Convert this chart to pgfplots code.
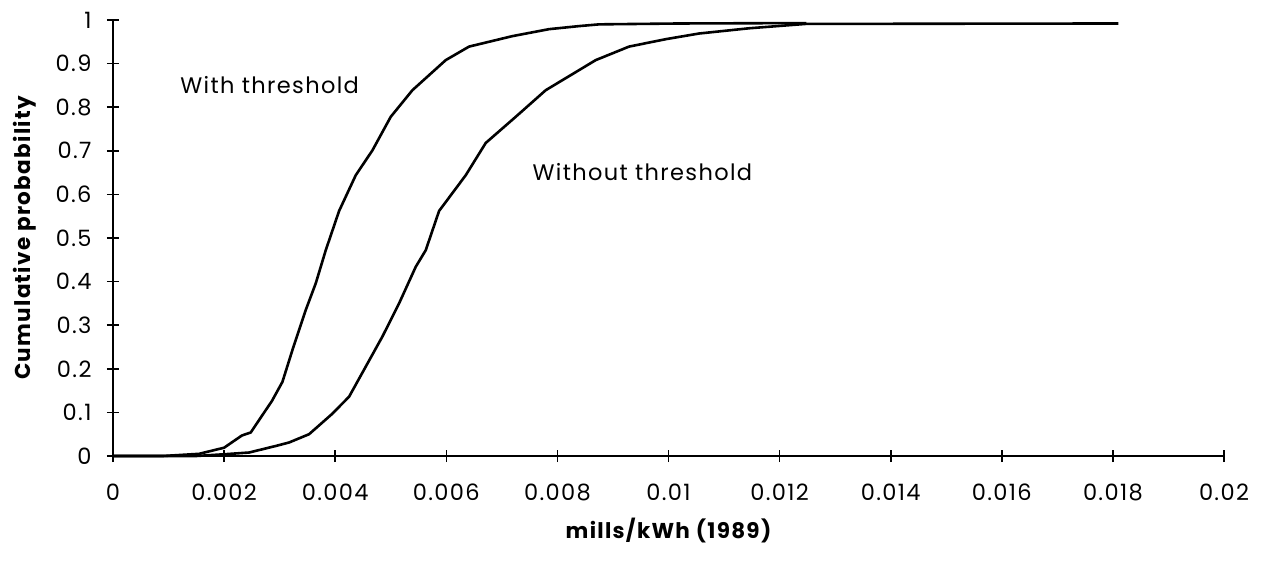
\documentclass[border=0pt]{standalone}
\usepackage{fontspec}
\setmainfont{Poppins}[LetterSpace=6]
\usepackage{pgfplots}
\pgfplotsset{compat=1.18}
\pgfplotstableread{
x y
0 0
0.0009 0
0.00155 0.005
0.002 0.019
0.00232 0.047
0.00248 0.054
0.00268 0.092
0.00286 0.126
0.00305 0.17
0.00323 0.243
0.00347 0.335
0.00365 0.396
0.00383 0.472
0.00407 0.562
0.00437 0.644
0.00467 0.701
0.005 0.778
0.00539 0.839
0.00599 0.908
0.00641 0.939
0.00719 0.963
0.00785 0.979
0.00839 0.986
0.00875 0.99
0.01019 0.992
0.01248 0.993
}\withthr
\pgfplotstableread{
x y
0 0
0.0015 0
0.002 0.004
0.00245 0.008
0.00293 0.023
0.00317 0.031
0.00353 0.05
0.00394 0.096
0.00425 0.136
0.00455 0.205
0.00485 0.274
0.00515 0.35
0.00545 0.434
0.00563 0.472
0.00587 0.562
0.00635 0.644
0.00671 0.718
0.00725 0.778
0.00779 0.839
0.00869 0.908
0.00929 0.939
0.00995 0.956
0.01055 0.969
0.01145 0.981
0.01247 0.991
0.0181 0.992
}\withoutthr
\begin{document}
\begin{tikzpicture}
\begin{axis}[
  scale only axis,
  width=1111pt, height=436pt,
  xmin=0, xmax=0.02, ymin=0, ymax=1,
  scaled x ticks=false, scaled y ticks=false,
  axis lines=left,
  axis line style={-, line width=2pt},
  tick align=center,
  major tick length=12pt,
  tick style={line width=1.6pt, black},
  xtick={0,0.002,0.004,0.006,0.008,0.01,0.012,0.014,0.016,0.018,0.02},
  xticklabels={0,0.002,0.004,0.006,0.008,0.01,0.012,0.014,0.016,0.018,0.02},
  ytick={0,0.1,0.2,0.3,0.4,0.5,0.6,0.7,0.8,0.9,1},
  yticklabels={0,0.1,0.2,0.3,0.4,0.5,0.6,0.7,0.8,0.9,1},
  ticklabel style={font=\fontsize{22.5}{26}\selectfont},
  xticklabel style={yshift=-18pt},
  yticklabel style={xshift=-12pt},
  xlabel={mills/kWh (1989)},
  ylabel={Cumulative probability},
  every axis x label/.style={at={(axis description cs:0.5,-0.17)}, anchor=center, font=\fontsize{21.5}{25}\selectfont\bfseries},
  every axis y label/.style={at={(axis description cs:-0.079,0.5)}, anchor=center, rotate=90, font=\fontsize{21.5}{25}\selectfont\bfseries},
  clip=false,
]
\addplot[black, line width=2.6pt, line join=round] table[x=x,y=y] {\withthr};
\addplot[black, line width=2.6pt, line join=round] table[x=x,y=y] {\withoutthr};
\node[anchor=west, font=\fontsize{22.5}{26}\selectfont] at (axis cs:0.00115,0.851) {With threshold};
\node[anchor=west, font=\fontsize{22.5}{26}\selectfont] at (axis cs:0.00749,0.651) {Without threshold};
\end{axis}
\path (-113pt,-104pt) rectangle (1150pt,456pt);
\end{tikzpicture}
\end{document}
